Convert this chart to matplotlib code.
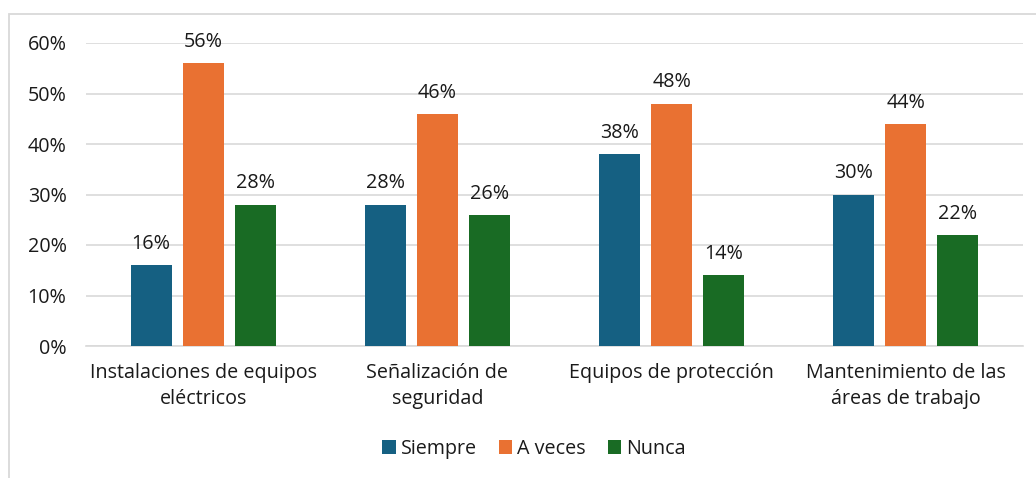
import matplotlib
matplotlib.use("Agg")
import matplotlib.pyplot as plt
import numpy as np
from matplotlib.patches import Rectangle
from matplotlib.ticker import FuncFormatter

categories = ["Instalaciones de equipos\neléctricos", "Señalización de\nseguridad",
              "Equipos de protección", "Mantenimiento de las\náreas de trabajo"]
series_names = ["Siempre", "A veces", "Nunca"]
siempre = [0.16, 0.28, 0.38, 0.30]
a_veces = [0.56, 0.46, 0.48, 0.44]
nunca = [0.28, 0.26, 0.14, 0.22]
colors = ["#156082", "#E97132", "#196B24"]

plt.rcParams['font.family'] = ['Open Sans', 'DejaVu Sans']
FS = 14.2
TC = "#1a1a1a"

fig = plt.figure(figsize=(10.36, 4.78), dpi=100)
# outer chart border (partially visible)
fig.patches.append(Rectangle((9/1036, -0.1), 1.2, 1 - 14/478 + 0.1, transform=fig.transFigure,
                             fill=False, edgecolor="#D9D9D9", linewidth=1.3))
ax = fig.add_axes([86/1036, 1 - 346/478, (1023-86)/1036, (346-43)/478])

x = np.arange(len(categories))
w = 0.175
step = 0.222
for i, (vals, name) in enumerate(zip([siempre, a_veces, nunca], series_names)):
    pos = x + (i - 1) * step
    bars = ax.bar(pos, vals, width=w, color=colors[i], label=name, zorder=3)
    for b, v in zip(bars, vals):
        ax.annotate(f"{round(v*100)}%", (b.get_x() + b.get_width()/2, v),
                    xytext=(0, 8), textcoords="offset points", ha="center", va="bottom",
                    fontsize=FS, color=TC)

ax.set_xlim(-0.5, 3.5)
ax.set_ylim(0, 0.6)
ax.set_yticks(np.arange(0, 0.61, 0.1))
ax.yaxis.set_major_formatter(FuncFormatter(lambda v, p: f"{round(v*100)}%"))
ax.set_xticks(x)
ax.set_xticklabels(categories, fontsize=FS, color=TC, linespacing=1.4)
ax.tick_params(axis='y', labelsize=FS, labelcolor=TC, length=0, pad=14)
ax.tick_params(axis='x', length=0, pad=12)
ax.grid(axis='y', color="#D9D9D9", linewidth=1.2, zorder=0)
for s in ["top", "right", "left"]:
    ax.spines[s].set_visible(False)
ax.spines["bottom"].set_color("#D9D9D9")
ax.spines["bottom"].set_linewidth(1.2)

leg = fig.legend(loc="center", bbox_to_anchor=(534/1036, 1 - 449/478), ncol=3, frameon=False,
                 fontsize=FS, handlelength=0.7, handleheight=0.7, handletextpad=0.25,
                 columnspacing=1.1)
for t in leg.get_texts():
    t.set_color(TC)

fig.savefig("out.png", dpi=100)
